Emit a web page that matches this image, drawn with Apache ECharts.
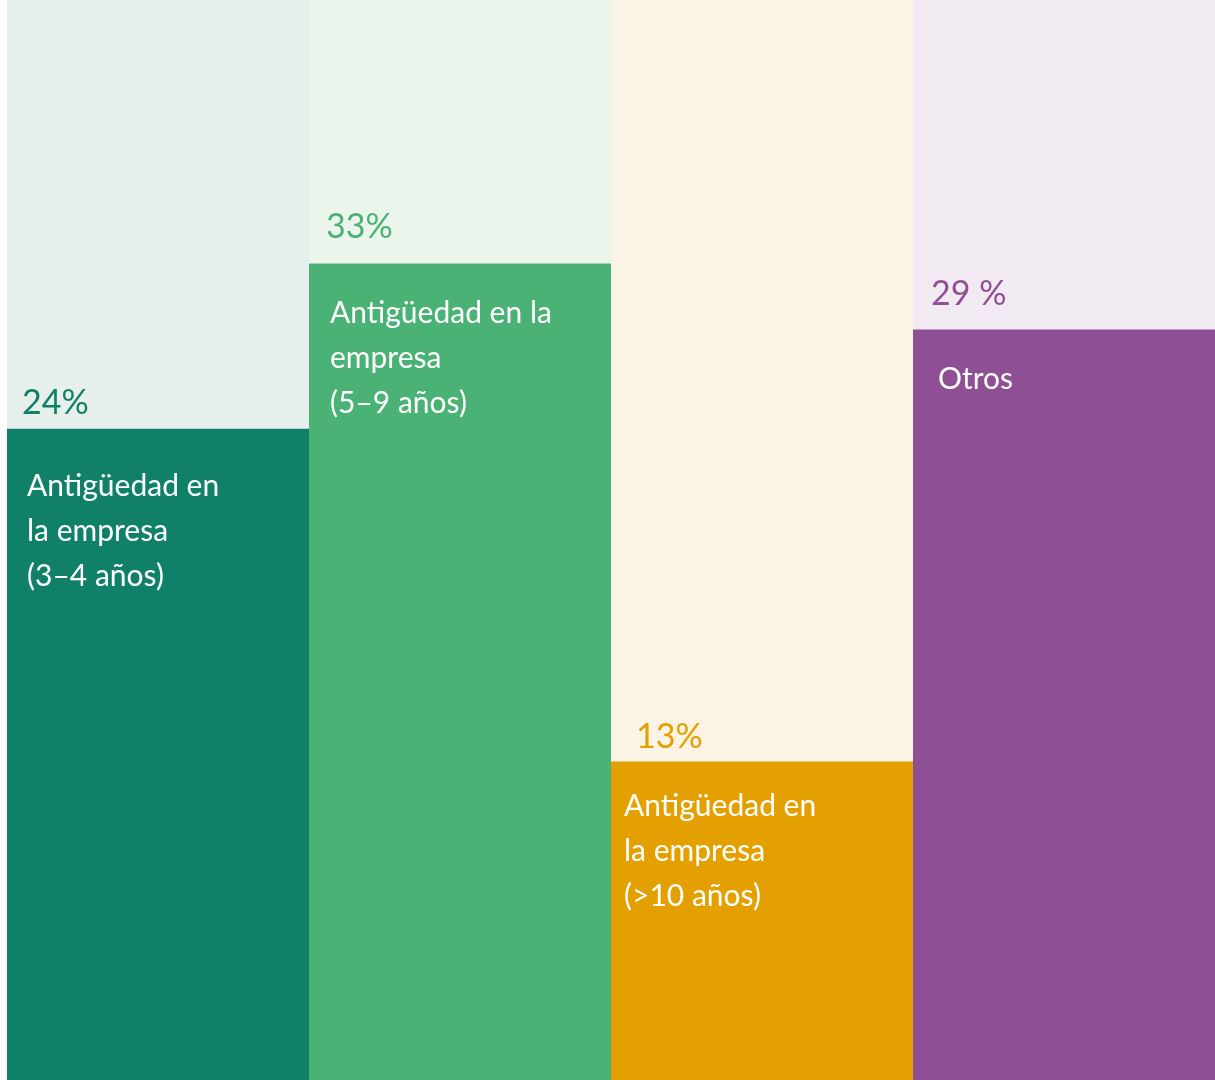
<!DOCTYPE html>
<html>
<head>
<meta charset="utf-8">
<script src="https://cdn.jsdelivr.net/npm/echarts@6/dist/echarts.min.js"></script>
<style>
html,body{margin:0;padding:0;background:#fff;}
#chart{width:1215px;height:1080px;}
</style>
</head>
<body>
<div id="chart"></div>
<script>
// ---- data ----
const categories = ['Antigüedad en\nla empresa\n(3–4 años)', 'Antigüedad en la\nempresa\n(5–9 años)', 'Antigüedad en\nla empresa\n(>10 años)', 'Otros'];
const shareLabels = ['24%', '33%', '13%', '29 %'];
const barHeights = [60.3, 75.6, 29.5, 69.5];   // visual bar height, % of panel
const panelMax = [100, 100, 100, 100];

// ---- style ----
const style = {
  bar: ['#108068', '#4BB275', '#E3A000', '#8F4F94'],
  bg: ['#E6EFEC', '#ECF5EC', '#FBF3E4', '#F2EAF2'],
  pctOffset: [[15, -44], [17, -54], [25, -42], [18, -53]],
  catOffset: [[20, 35], [21, 27], [13, 22], [25, 27]]
};
const FONT = 'Lato, "Open Sans", sans-serif';

const chart = echarts.init(document.getElementById('chart'), null, {renderer: 'canvas'});
chart.setOption({
  animation: false,
  grid: {left: 7, right: 0, top: 0, bottom: 0},
  xAxis: {type: 'category', data: categories, show: false},
  yAxis: {type: 'value', min: 0, max: 100, show: false},
  series: [
    {
      type: 'bar', barCategoryGap: '0%', barGap: '-100%', silent: true,
      data: panelMax.map((v, i) => ({value: v, itemStyle: {color: style.bg[i]}}))
    },
    {
      type: 'bar', barCategoryGap: '0%', barGap: '-100%', silent: true,
      data: barHeights.map((v, i) => ({
        value: v,
        itemStyle: {color: style.bar[i]},
        label: {offset: style.catOffset[i]}
      })),
      label: {
        show: true, position: 'insideTopLeft', distance: 0,
        formatter: p => categories[p.dataIndex],
        color: '#fff', fontFamily: FONT, fontSize: 30, lineHeight: 45, align: 'left', verticalAlign: 'top'
      }
    },
    {
      type: 'bar', barCategoryGap: '0%', barGap: '-100%', silent: true,
      data: barHeights.map((v, i) => ({
        value: v,
        itemStyle: {color: 'rgba(0,0,0,0)'},
        label: {offset: style.pctOffset[i], color: style.bar[i]}
      })),
      label: {
        show: true, position: 'insideTopLeft', distance: 0,
        formatter: p => shareLabels[p.dataIndex],
        fontFamily: FONT, fontSize: 34, lineHeight: 36, align: 'left', verticalAlign: 'top'
      }
    }
  ]
});
</script>
</body>
</html>
